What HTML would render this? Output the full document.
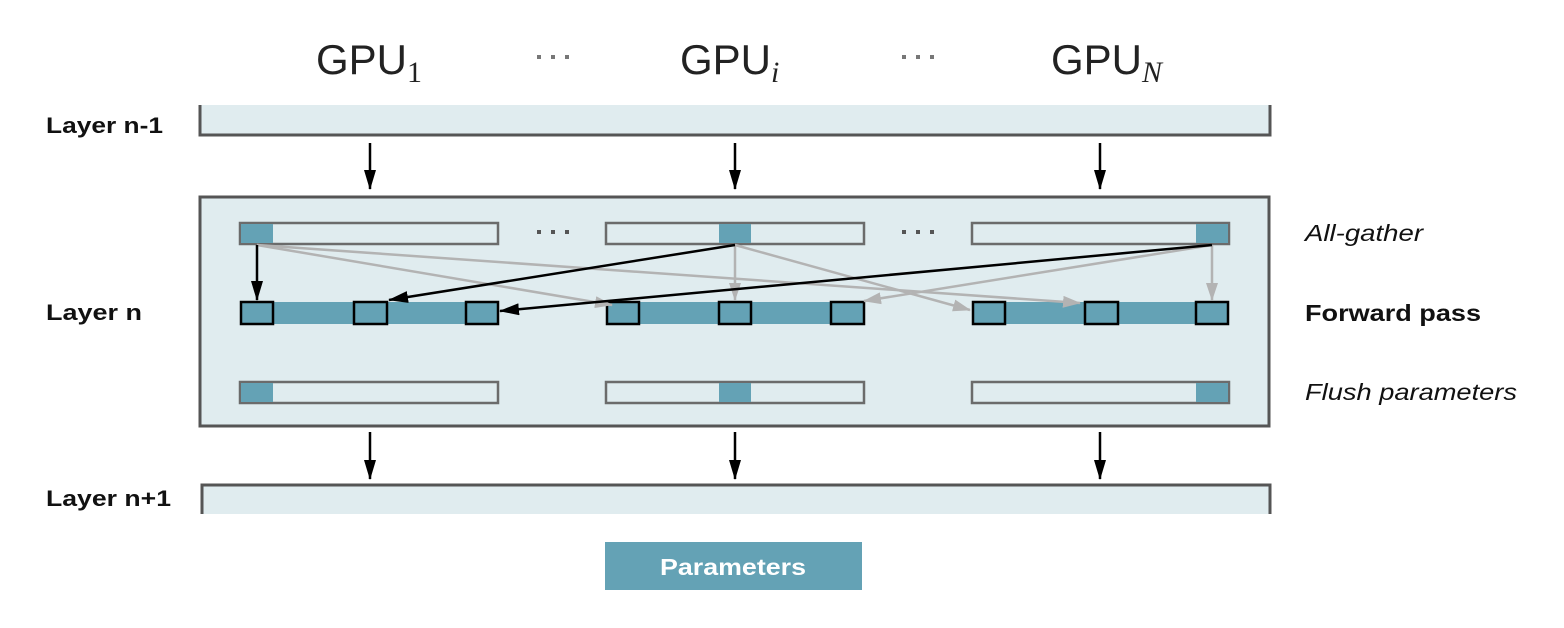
<!DOCTYPE html>
<html><head><meta charset="utf-8"><style>
html,body{margin:0;padding:0;background:#fff;}
svg{display:block;}
text{font-family:"Liberation Sans",sans-serif;}
</style></head><body>
<svg width="1564" height="628" viewBox="0 0 1564 628" xmlns="http://www.w3.org/2000/svg">
<defs>
<marker id="abig" markerWidth="20" markerHeight="12" refX="19" refY="6" orient="auto" markerUnits="userSpaceOnUse" viewBox="0 0 20 12"><path d="M0,0 L20,6 L0,12 z" fill="#000"/></marker>
<marker id="agbig" markerWidth="18" markerHeight="12" refX="17" refY="6" orient="auto" markerUnits="userSpaceOnUse" viewBox="0 0 18 12"><path d="M0,0 L18,6 L0,12 z" fill="#b3b3b3"/></marker>
</defs>

<text x="316" y="74" font-size="42" fill="#222">GPU<tspan font-family="Liberation Serif,serif" font-size="30" dy="8">1</tspan></text>
<text x="680" y="74" font-size="42" fill="#222">GPU<tspan font-family="Liberation Serif,serif" font-style="italic" font-size="30" dy="8">i</tspan></text>
<text x="1051" y="74" font-size="42" fill="#222">GPU<tspan font-family="Liberation Serif,serif" font-style="italic" font-size="30" dy="8">N</tspan></text>
<g fill="#777"><rect x="537" y="55" width="4" height="4"/><rect x="551" y="55" width="4" height="4"/><rect x="565" y="55" width="4" height="4"/>
<rect x="902" y="55" width="4" height="4"/><rect x="916" y="55" width="4" height="4"/><rect x="930" y="55" width="4" height="4"/></g>

<rect x="200" y="105" width="1070" height="30" fill="#e0ecef"/>
<path d="M200,105 V135 H1270 V105" fill="none" stroke="#555" stroke-width="3"/>
<text x="46" y="133" font-size="22" font-weight="bold" fill="#111" textLength="117" lengthAdjust="spacingAndGlyphs">Layer n-1</text>

<g stroke="#000" stroke-width="2.5">
<line x1="370" y1="143" x2="370" y2="189" marker-end="url(#abig)"/>
<line x1="735" y1="143" x2="735" y2="189" marker-end="url(#abig)"/>
<line x1="1100" y1="143" x2="1100" y2="189" marker-end="url(#abig)"/>
<line x1="370" y1="432" x2="370" y2="479" marker-end="url(#abig)"/>
<line x1="735" y1="432" x2="735" y2="479" marker-end="url(#abig)"/>
<line x1="1100" y1="432" x2="1100" y2="479" marker-end="url(#abig)"/>
</g>

<rect x="200" y="197" width="1069" height="229" fill="#e0ecef" stroke="#555" stroke-width="3"/>
<text x="46" y="320" font-size="22" font-weight="bold" fill="#111" textLength="96" lengthAdjust="spacingAndGlyphs">Layer n</text>

<g stroke="#6b6b6b" stroke-width="2.5" fill="#e0ecef">
<rect x="240" y="223" width="258" height="21"/>
<rect x="606" y="223" width="258" height="21"/>
<rect x="972" y="223" width="257" height="21"/>
<rect x="240" y="382" width="258" height="21"/>
<rect x="606" y="382" width="258" height="21"/>
<rect x="972" y="382" width="257" height="21"/>
</g>
<g fill="#64a2b5">
<rect x="241" y="224" width="32" height="19"/>
<rect x="719" y="224" width="32" height="19"/>
<rect x="1196" y="224" width="32" height="19"/>
<rect x="241" y="383" width="32" height="19"/>
<rect x="719" y="383" width="32" height="19"/>
<rect x="1196" y="383" width="32" height="19"/>
</g>
<g fill="#555"><rect x="537" y="230" width="4" height="4"/><rect x="551" y="230" width="4" height="4"/><rect x="565" y="230" width="4" height="4"/>
<rect x="902" y="230" width="4" height="4"/><rect x="916" y="230" width="4" height="4"/><rect x="930" y="230" width="4" height="4"/></g>

<g fill="#64a2b5">
<rect x="240" y="302" width="258" height="22"/>
<rect x="606" y="302" width="258" height="22"/>
<rect x="972" y="302" width="257" height="22"/>
</g>
<g fill="none" stroke="#000" stroke-width="2.5">
<rect x="241" y="302" width="32" height="22"/><rect x="354" y="302" width="33" height="22"/><rect x="466" y="302" width="32" height="22"/>
<rect x="607" y="302" width="32" height="22"/><rect x="719" y="302" width="32" height="22"/><rect x="831" y="302" width="33" height="22"/>
<rect x="973" y="302" width="32" height="22"/><rect x="1085" y="302" width="33" height="22"/><rect x="1196" y="302" width="32" height="22"/>
</g>

<g stroke="#b3b3b3" stroke-width="2.5" fill="none">
<line x1="257" y1="245" x2="612" y2="305" marker-end="url(#agbig)"/>
<line x1="257" y1="245" x2="1080" y2="303" marker-end="url(#agbig)"/>
<line x1="735" y1="245" x2="735" y2="300" marker-end="url(#agbig)"/>
<line x1="735" y1="245" x2="970" y2="310" marker-end="url(#agbig)"/>
<line x1="1212" y1="245" x2="1212" y2="300" marker-end="url(#agbig)"/>
<line x1="1212" y1="245" x2="864" y2="301" marker-end="url(#agbig)"/>
</g>
<g stroke="#000" stroke-width="2.5" fill="none">
<line x1="257" y1="245" x2="257" y2="300" marker-end="url(#abig)"/>
<line x1="735" y1="245" x2="389" y2="300" marker-end="url(#abig)"/>
<line x1="1212" y1="245" x2="500" y2="311" marker-end="url(#abig)"/>
</g>

<text x="1305" y="241" font-size="23" font-style="italic" fill="#111" textLength="118" lengthAdjust="spacingAndGlyphs">All-gather</text>
<text x="1305" y="321" font-size="23" font-weight="bold" fill="#111" textLength="176" lengthAdjust="spacingAndGlyphs">Forward pass</text>
<text x="1305" y="400" font-size="23" font-style="italic" fill="#111" textLength="212" lengthAdjust="spacingAndGlyphs">Flush parameters</text>

<rect x="202" y="485" width="1068" height="29" fill="#e0ecef"/>
<path d="M202,514 V485 H1270 V514" fill="none" stroke="#555" stroke-width="3"/>
<text x="46" y="506" font-size="22" font-weight="bold" fill="#111" textLength="125" lengthAdjust="spacingAndGlyphs">Layer n+1</text>

<rect x="605" y="542" width="257" height="48" fill="#64a2b5"/>
<text x="660" y="575" font-size="23" font-weight="bold" fill="#fff" textLength="146" lengthAdjust="spacingAndGlyphs">Parameters</text>
</svg>
</body></html>
